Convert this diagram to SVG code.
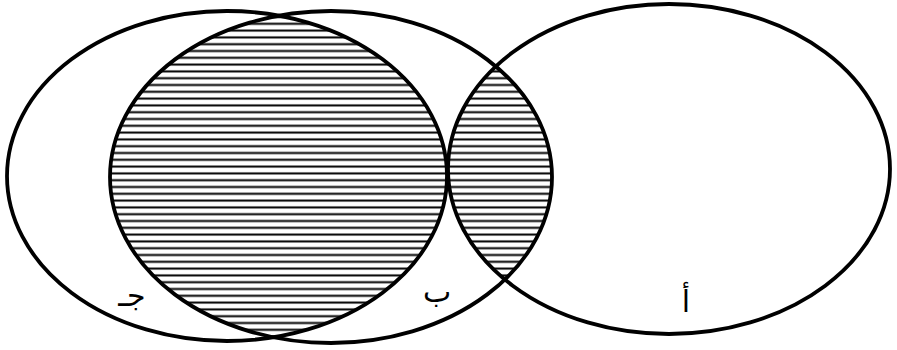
<svg xmlns="http://www.w3.org/2000/svg" width="897" height="350" viewBox="0 0 897 350">
<style>
.set{fill:none;stroke:#000;stroke-width:3.8}
.lbl{font-family:"DejaVu Sans","Noto Sans",sans-serif;font-size:30px;fill:#000;text-anchor:middle}
</style>
<defs>
<pattern id="hatch" patternUnits="userSpaceOnUse" width="20" height="6.8">
<line x1="0" y1="3.4" x2="20" y2="3.4" stroke="#000" stroke-width="2"/>
</pattern>
<clipPath id="clipB"><ellipse cx="331" cy="177" rx="221" ry="166"/></clipPath>
</defs>
<g id="hatching" clip-path="url(#clipB)">
<ellipse cx="227" cy="176" rx="220" ry="165" fill="url(#hatch)"/>
<ellipse cx="669" cy="169" rx="221" ry="165" fill="url(#hatch)"/>
</g>
<g id="set-jim">
<ellipse class="set" cx="227" cy="176" rx="220" ry="165"/>
<text class="lbl" x="132" y="306">جـ</text>
</g>
<g id="set-ba">
<ellipse class="set" cx="331" cy="177" rx="221" ry="166"/>
<text class="lbl" x="437" y="302">ب</text>
</g>
<g id="set-alif">
<ellipse class="set" cx="669" cy="169" rx="221" ry="165"/>
<text class="lbl" x="686" y="312">أ</text>
</g>
</svg>
